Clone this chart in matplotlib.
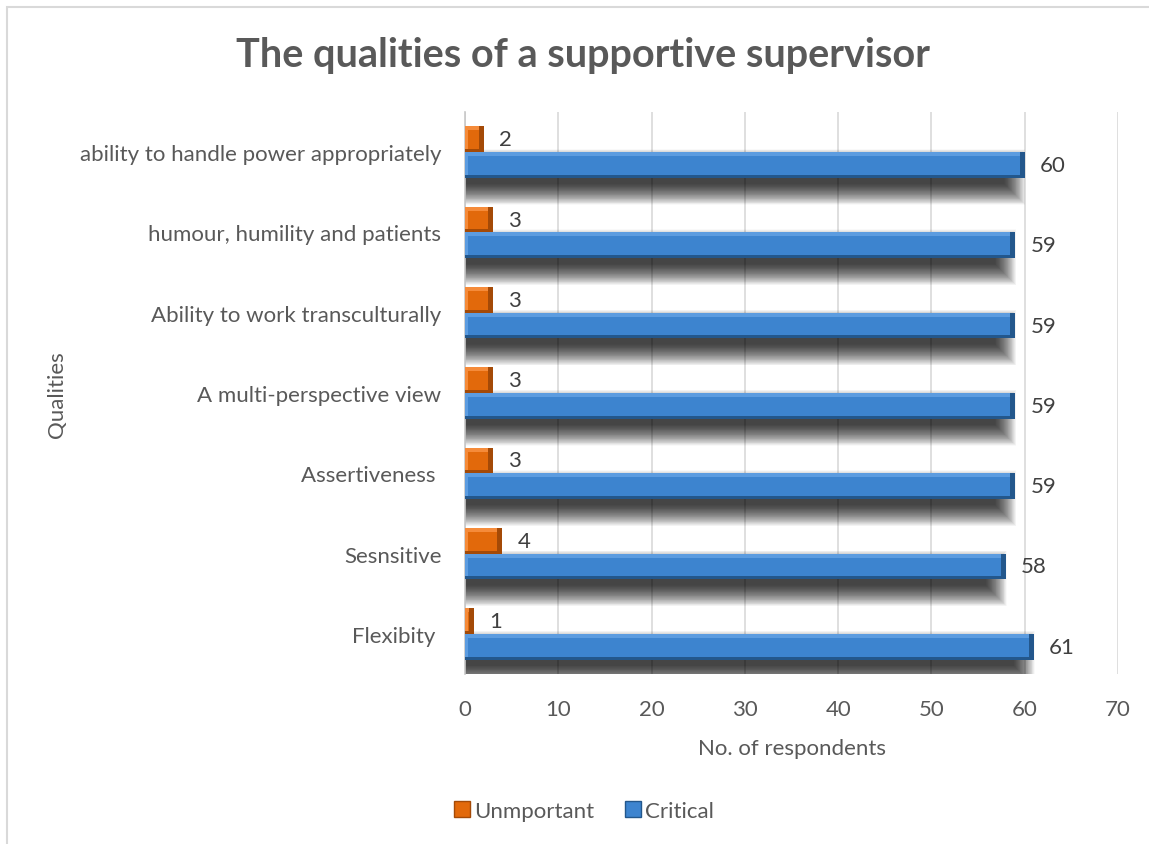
import numpy as np
import matplotlib.pyplot as plt
from matplotlib.patches import Rectangle

qualities = ["Flexibity ", "Sesnsitive", "Assertiveness ", "A multi-perspective view",
             "Ability to work transculturally", "humour, humility and patients",
             "ability to handle power appropriately"]
unimportant = [1, 4, 3, 3, 3, 3, 2]
critical = [61, 58, 59, 59, 59, 59, 60]

text_grey = "#595959"
blue, blue_light, blue_dark = "#3d84cf", "#5c9ce0", "#23578c"
orange, orange_light, orange_dark = "#e2690b", "#f58b3a", "#a44a07"

plt.rcParams["font.family"] = ["Lato", "DejaVu Sans"]
fs = 16

fig = plt.figure(figsize=(11.49, 8.45), dpi=100)
ax = fig.add_axes([465 / 1149, 1 - 675 / 845, 653 / 1149, 562 / 845])

# chart frame (left and top edges only show)
fig.patches.append(Rectangle((7 / 1149, -0.1), 1.2, (845 - 8) / 845 + 0.1,
                             transform=fig.transFigure, fill=False,
                             edgecolor="#d9d9d9", linewidth=1.5))

y = np.arange(len(qualities))
h = 0.32
off = 0.16
px_x = 70 / 653   # data units per pixel
px_y = 7 / 562

# soft drop shadow under the blue bars
for d in np.linspace(-6, 15, 48):
    ax.barh(y - off - 12 * px_y, np.array(critical) - 5 * px_x + d * px_x,
            height=h + 2 * d * px_y, left=-1, color="black", alpha=0.022,
            linewidth=0, zorder=1)


def bevel_bars(ypos, vals, main, light, dark):
    vals = np.array(vals, dtype=float)
    ax.barh(ypos, vals, height=h, color=main, linewidth=0, zorder=3)
    # top highlight / bottom shade
    ax.barh(ypos + h / 2 - 2 * px_y, vals, height=4 * px_y, color=light,
            linewidth=0, zorder=4)
    ax.barh(ypos - h / 2 + 1.5 * px_y, vals, height=3 * px_y, color=dark,
            linewidth=0, zorder=4)
    # end caps
    ax.barh(ypos, 3 * px_x, height=h - 6 * px_y, left=0, color=light,
            linewidth=0, zorder=4)
    ax.barh(ypos, 5 * px_x, height=h, left=vals - 5 * px_x, color=dark,
            linewidth=0, zorder=4)


bevel_bars(y + off, unimportant, orange, orange_light, orange_dark)
bevel_bars(y - off, critical, blue, blue_light, blue_dark)

for yi, v in zip(y, unimportant):
    ax.text(v + 15 * px_x, yi + off, str(v), va="center", ha="left",
            fontsize=fs, color="#404040", zorder=5)
for yi, v in zip(y, critical):
    ax.text(v + 15 * px_x, yi - off, str(v), va="center", ha="left",
            fontsize=fs, color="#404040", zorder=5)

ax.set_xlim(0, 70)
ax.set_ylim(-0.5, len(qualities) - 0.5)
ax.set_xticks(range(0, 71, 10))
ax.set_yticks(y)
ax.set_yticklabels(qualities)
ax.tick_params(axis="y", length=0, pad=17, labelsize=fs, labelcolor=text_grey)
ax.tick_params(axis="x", length=0, pad=18, labelsize=fs, labelcolor=text_grey)
ax.grid(axis="x", color="#d9d9d9", linewidth=1.2, zorder=0)
ax.set_axisbelow(True)
for side in ["top", "right", "bottom"]:
    ax.spines[side].set_visible(False)
ax.spines["left"].set_color("#c8c8c8")
ax.spines["left"].set_linewidth(1.2)

ax.set_xlabel("No. of respondents", fontsize=fs, color=text_grey, labelpad=14)
fig.text(57 / 1149, 1 - 395 / 845, "Qualities", rotation=90, ha="center",
         va="center", fontsize=fs, color=text_grey)
fig.text(583 / 1149, 1 - 56 / 845, "The qualities of a supportive supervisor",
         ha="center", va="center", fontsize=28.5, fontweight="bold", color=text_grey)

handles = [Rectangle((0, 0), 1, 1, facecolor=orange, edgecolor=orange_dark),
           Rectangle((0, 0), 1, 1, facecolor=blue, edgecolor=blue_dark)]
fig.legend(handles, ["Unmportant", "Critical"], loc="center",
           bbox_to_anchor=(584 / 1149, 1 - 812 / 845), ncol=2, frameon=False,
           fontsize=fs, labelcolor=text_grey, handlelength=0.7, handleheight=0.7,
           handletextpad=0.2, columnspacing=1.4)

fig.savefig("out.png", dpi=100)
